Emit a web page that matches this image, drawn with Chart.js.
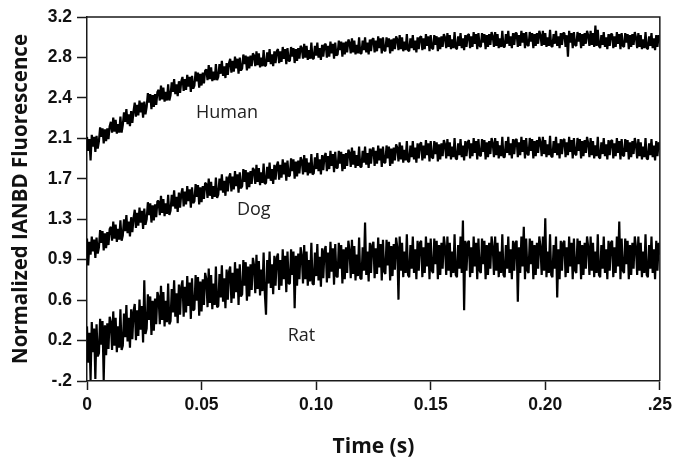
<!DOCTYPE html>
<html>
<head>
<meta charset="utf-8">
<script src="https://cdn.jsdelivr.net/npm/chart.js@4.4.1/dist/chart.umd.min.js"></script>
<style>
  html, body { margin: 0; padding: 0; background: #ffffff; }
  #wrap { width: 677px; height: 460px; }
</style>
</head>
<body>
<div id="wrap"><canvas id="chart" width="677" height="460"></canvas></div>
<script>
// Time axis: 481 samples from 0 to 0.25 s
const timeStart = 0;
const timeEnd = 0.25;
const sampleCount = 481;

const xTickLabels = ['0', '0.05', '0.10', '0.15', '0.20', '.25'];
const yTickLabels = ['-.2', '0.2', '0.6', '0.9', '1.3', '1.7', '2.1', '2.4', '2.8', '3.2'];

// Traces (noise included)
const human = [
  2.08, 1.95, 2.06, 1.86, 2.10, 1.99, 2.08, 1.94, 2.09, 1.97,
  2.04, 2.17, 2.08, 2.16, 2.02, 2.15, 2.04, 2.16, 2.06, 2.18,
  2.22, 2.12, 2.26, 2.13, 2.24, 2.11, 2.20, 2.12, 2.27, 2.12,
  2.19, 2.31, 2.22, 2.34, 2.20, 2.29, 2.18, 2.32, 2.21, 2.32,
  2.40, 2.27, 2.38, 2.28, 2.42, 2.31, 2.40, 2.26, 2.41, 2.29,
  2.36, 2.49, 2.40, 2.48, 2.34, 2.47, 2.36, 2.48, 2.38, 2.50,
  2.52, 2.42, 2.56, 2.43, 2.54, 2.41, 2.50, 2.42, 2.57, 2.42,
  2.47, 2.59, 2.50, 2.62, 2.48, 2.57, 2.46, 2.60, 2.49, 2.60,
  2.64, 2.51, 2.62, 2.52, 2.66, 2.55, 2.64, 2.50, 2.65, 2.53,
  2.56, 2.69, 2.60, 2.68, 2.54, 2.67, 2.56, 2.68, 2.58, 2.70,
  2.71, 2.61, 2.75, 2.62, 2.73, 2.60, 2.69, 2.61, 2.76, 2.61,
  2.64, 2.76, 2.67, 2.79, 2.65, 2.74, 2.63, 2.77, 2.66, 2.77,
  2.81, 2.68, 2.79, 2.69, 2.83, 2.72, 2.81, 2.67, 2.82, 2.70,
  2.72, 2.85, 2.76, 2.84, 2.70, 2.83, 2.72, 2.84, 2.74, 2.86,
  2.84, 2.74, 2.88, 2.75, 2.86, 2.73, 2.82, 2.74, 2.89, 2.74,
  2.75, 2.87, 2.78, 2.90, 2.76, 2.85, 2.74, 2.88, 2.77, 2.88,
  2.90, 2.77, 2.88, 2.78, 2.92, 2.81, 2.90, 2.76, 2.91, 2.79,
  2.79, 2.92, 2.83, 2.91, 2.77, 2.90, 2.79, 2.91, 2.81, 2.93,
  2.91, 2.81, 2.95, 2.82, 2.93, 2.80, 2.89, 2.81, 2.96, 2.81,
  2.81, 2.93, 2.84, 2.96, 2.82, 2.91, 2.80, 2.94, 2.83, 2.94,
  2.95, 2.82, 2.93, 2.83, 2.97, 2.86, 2.95, 2.81, 2.96, 2.84,
  2.85, 2.98, 2.89, 2.97, 2.83, 2.96, 2.85, 2.97, 2.87, 2.99,
  2.96, 2.86, 3.00, 2.87, 2.98, 2.85, 2.94, 2.86, 3.01, 2.86,
  2.86, 2.98, 2.89, 3.01, 2.87, 2.96, 2.85, 2.99, 2.88, 2.99,
  3.00, 2.87, 2.98, 2.88, 3.02, 2.91, 3.00, 2.86, 3.01, 2.89,
  2.88, 3.01, 2.92, 3.00, 2.86, 2.99, 2.88, 3.00, 2.90, 3.02,
  2.99, 2.89, 3.03, 2.90, 3.01, 2.88, 2.97, 2.89, 3.04, 2.89,
  2.88, 3.00, 2.91, 3.03, 2.89, 2.98, 2.87, 3.01, 2.90, 3.01,
  3.02, 2.89, 3.00, 2.90, 3.04, 2.93, 3.02, 2.88, 3.03, 2.91,
  2.90, 3.03, 2.94, 3.02, 2.88, 3.01, 2.90, 3.02, 2.92, 3.04,
  3.01, 2.91, 3.05, 2.92, 3.03, 2.90, 2.99, 2.91, 3.06, 2.91,
  2.90, 3.02, 2.93, 3.05, 2.91, 3.00, 2.89, 3.03, 2.92, 3.03,
  3.04, 2.91, 3.02, 2.92, 3.06, 2.95, 3.04, 2.90, 3.05, 2.93,
  2.92, 3.05, 2.96, 3.04, 2.90, 3.03, 2.92, 3.04, 2.94, 3.06,
  3.02, 2.92, 3.06, 2.93, 3.04, 2.91, 3.00, 2.92, 3.07, 2.92,
  2.92, 3.04, 2.95, 3.07, 2.93, 3.02, 2.91, 3.05, 2.94, 3.05,
  3.05, 2.92, 3.03, 2.93, 3.07, 2.96, 3.05, 2.91, 3.06, 2.94,
  2.93, 3.06, 2.97, 3.05, 2.91, 3.04, 2.93, 3.05, 2.95, 3.07,
  3.03, 2.93, 3.07, 2.94, 3.05, 2.92, 3.01, 2.93, 3.08, 2.93,
  2.92, 3.04, 2.95, 3.07, 2.93, 3.02, 2.91, 3.05, 2.94, 3.05,
  3.05, 2.92, 3.03, 2.83, 3.07, 2.96, 3.05, 2.91, 3.06, 2.94,
  2.93, 3.06, 2.97, 3.05, 2.91, 3.04, 2.93, 3.05, 2.95, 3.07,
  3.03, 2.93, 3.07, 2.94, 3.05, 2.92, 3.12, 2.93, 3.08, 2.93,
  2.91, 3.03, 2.94, 3.06, 2.92, 3.01, 2.90, 3.04, 2.93, 3.04,
  3.04, 2.91, 3.02, 2.92, 3.06, 2.95, 3.04, 2.90, 3.05, 2.93,
  2.92, 3.05, 2.96, 3.04, 2.90, 3.03, 2.92, 3.04, 2.94, 3.06,
  3.01, 2.91, 3.05, 2.92, 3.03, 2.90, 2.99, 2.91, 3.06, 2.91,
  2.90, 3.02, 2.93, 3.05, 2.91, 3.00, 2.89, 3.03, 2.92, 3.03, 2.97
];

const dog = [
  1.13, 0.88, 1.10, 0.98, 1.15, 1.01, 1.12, 0.95, 1.14, 0.99,
  1.05, 1.21, 1.09, 1.20, 1.02, 1.18, 1.04, 1.19, 1.07, 1.22,
  1.24, 1.11, 1.29, 1.13, 1.26, 1.10, 1.22, 1.12, 1.30, 1.11,
  1.16, 1.31, 1.20, 1.35, 1.18, 1.29, 1.15, 1.33, 1.19, 1.32,
  1.40, 1.23, 1.37, 1.25, 1.42, 1.28, 1.39, 1.22, 1.41, 1.26,
  1.31, 1.47, 1.35, 1.46, 1.28, 1.44, 1.30, 1.45, 1.33, 1.48,
  1.48, 1.35, 1.53, 1.37, 1.50, 1.34, 1.46, 1.36, 1.54, 1.35,
  1.39, 1.54, 1.43, 1.58, 1.41, 1.52, 1.38, 1.56, 1.42, 1.55,
  1.60, 1.43, 1.57, 1.45, 1.62, 1.48, 1.59, 1.42, 1.61, 1.46,
  1.48, 1.64, 1.52, 1.63, 1.45, 1.61, 1.47, 1.62, 1.50, 1.65,
  1.64, 1.51, 1.69, 1.53, 1.66, 1.50, 1.62, 1.52, 1.70, 1.51,
  1.54, 1.69, 1.58, 1.73, 1.56, 1.67, 1.53, 1.71, 1.57, 1.70,
  1.74, 1.57, 1.71, 1.59, 1.76, 1.62, 1.73, 1.56, 1.75, 1.60,
  1.62, 1.78, 1.66, 1.77, 1.59, 1.75, 1.61, 1.76, 1.64, 1.79,
  1.77, 1.64, 1.82, 1.66, 1.79, 1.63, 1.75, 1.65, 1.83, 1.64,
  1.65, 1.80, 1.69, 1.84, 1.67, 1.78, 1.64, 1.82, 1.68, 1.81,
  1.85, 1.68, 1.82, 1.70, 1.87, 1.73, 1.84, 1.67, 1.86, 1.71,
  1.72, 1.88, 1.76, 1.87, 1.69, 1.85, 1.71, 1.86, 1.74, 1.89,
  1.86, 1.73, 1.91, 1.75, 1.88, 1.72, 1.84, 1.74, 1.92, 1.73,
  1.74, 1.89, 1.78, 1.93, 1.76, 1.87, 1.73, 1.91, 1.77, 1.90,
  1.93, 1.76, 1.90, 1.78, 1.95, 1.81, 1.92, 1.75, 1.94, 1.79,
  1.79, 1.95, 1.83, 1.94, 1.76, 1.92, 1.78, 1.93, 1.81, 1.96,
  1.93, 1.80, 1.98, 1.82, 1.95, 1.79, 1.91, 1.81, 1.99, 1.80,
  1.80, 1.95, 1.84, 1.99, 1.82, 1.93, 1.79, 1.97, 1.83, 1.96,
  1.98, 1.81, 1.95, 1.83, 2.00, 1.86, 1.97, 1.80, 1.99, 1.84,
  1.84, 2.00, 1.88, 1.99, 1.81, 1.97, 1.83, 1.98, 1.86, 2.01,
  1.98, 1.85, 2.03, 1.87, 2.00, 1.84, 1.96, 1.86, 2.04, 1.85,
  1.85, 2.00, 1.89, 2.04, 1.87, 1.98, 1.84, 2.02, 1.88, 2.01,
  2.03, 1.86, 2.00, 1.88, 2.05, 1.91, 2.02, 1.85, 2.04, 1.89,
  1.88, 2.04, 1.92, 2.03, 1.85, 2.01, 1.87, 2.02, 1.90, 2.05,
  2.01, 1.88, 2.06, 1.90, 2.03, 1.87, 1.99, 1.89, 2.07, 1.88,
  1.87, 2.02, 1.91, 2.06, 1.89, 2.00, 1.86, 2.04, 1.90, 2.03,
  2.05, 1.88, 2.02, 1.90, 2.07, 1.93, 2.04, 1.87, 2.06, 1.91,
  1.90, 2.06, 1.94, 2.05, 1.87, 2.03, 1.89, 2.04, 1.92, 2.07,
  2.02, 1.89, 2.07, 1.91, 2.04, 1.88, 2.00, 1.90, 2.08, 1.89,
  1.89, 2.04, 1.93, 2.08, 1.91, 2.02, 1.88, 2.06, 1.92, 2.05,
  2.06, 1.89, 2.03, 1.91, 2.08, 1.94, 2.05, 1.88, 2.07, 1.92,
  1.91, 2.07, 1.95, 2.06, 1.88, 2.04, 1.90, 2.05, 1.93, 2.08,
  2.03, 1.90, 2.08, 1.92, 2.05, 1.89, 2.01, 1.91, 2.09, 1.90,
  1.89, 2.04, 1.93, 2.08, 1.91, 2.02, 1.88, 2.06, 1.92, 2.05,
  2.06, 1.89, 2.03, 1.91, 2.08, 1.94, 2.05, 1.88, 2.07, 1.92,
  1.91, 2.07, 1.95, 2.06, 1.88, 2.04, 1.90, 2.05, 1.93, 2.08,
  2.02, 1.89, 2.07, 1.91, 2.04, 1.88, 2.00, 1.90, 2.08, 1.89,
  1.88, 2.03, 1.92, 2.07, 1.90, 2.01, 1.87, 2.05, 1.91, 2.04,
  2.05, 1.88, 2.02, 1.90, 2.07, 1.93, 2.04, 1.87, 2.06, 1.91,
  1.90, 2.06, 1.94, 2.05, 1.87, 2.03, 1.89, 2.04, 1.92, 2.07,
  2.01, 1.88, 2.06, 1.90, 2.03, 1.87, 1.99, 1.89, 2.07, 1.88,
  1.87, 2.02, 1.91, 2.06, 1.89, 2.00, 1.86, 2.04, 1.90, 2.03, 1.96
];

const rat = [
  0.31, -0.03, 0.25, -0.19, 0.35, 0.07, 0.29, -0.18, 0.33, 0.03,
  0.06, 0.38, 0.14, 0.36, -0.19, 0.32, 0.04, 0.34, 0.10, 0.40,
  0.35, 0.09, 0.45, 0.13, 0.39, 0.07, 0.31, 0.11, 0.47, 0.09,
  0.13, 0.43, 0.21, 0.51, 0.17, 0.39, 0.11, 0.47, 0.19, 0.45,
  0.52, 0.18, 0.46, 0.22, 0.56, 0.28, 0.50, 0.16, 0.74, 0.24,
  0.29, 0.61, 0.37, 0.59, 0.23, 0.55, 0.27, 0.57, 0.33, 0.63,
  0.59, 0.33, 0.69, 0.37, 0.63, 0.31, 0.55, 0.35, 0.71, 0.33,
  0.36, 0.66, 0.44, 0.74, 0.40, 0.62, 0.34, 0.70, 0.42, 0.68,
  0.74, 0.40, 0.68, 0.44, 0.78, 0.50, 0.72, 0.38, 0.76, 0.46,
  0.47, 0.79, 0.55, 0.77, 0.41, 0.73, 0.45, 0.75, 0.51, 0.81,
  0.75, 0.49, 0.85, 0.53, 0.79, 0.47, 0.71, 0.51, 0.87, 0.49,
  0.50, 0.80, 0.58, 0.88, 0.54, 0.76, 0.48, 0.84, 0.56, 0.82,
  0.87, 0.53, 0.81, 0.57, 0.91, 0.63, 0.85, 0.51, 0.89, 0.59,
  0.61, 0.93, 0.69, 0.91, 0.55, 0.87, 0.59, 0.89, 0.65, 0.95,
  0.88, 0.62, 0.98, 0.66, 0.92, 0.60, 0.84, 0.64, 1.00, 0.62,
  0.42, 0.93, 0.71, 1.01, 0.67, 0.89, 0.61, 0.97, 0.69, 0.95,
  0.99, 0.65, 0.93, 0.69, 1.03, 0.75, 0.97, 0.63, 1.01, 0.71,
  0.71, 1.03, 0.79, 1.01, 0.48, 0.97, 0.69, 0.99, 0.75, 1.05,
  0.97, 0.71, 1.07, 0.75, 1.01, 0.69, 0.93, 0.73, 1.09, 0.71,
  0.70, 1.00, 0.78, 1.08, 0.74, 0.96, 0.68, 1.04, 0.76, 1.02,
  1.06, 0.72, 1.00, 0.76, 1.10, 0.82, 1.04, 0.70, 1.08, 0.78,
  0.77, 1.09, 0.85, 1.07, 0.71, 1.03, 0.75, 1.05, 0.81, 1.11,
  1.02, 0.76, 1.12, 0.80, 1.06, 0.74, 0.98, 0.78, 1.14, 0.76,
  0.75, 1.05, 0.83, 1.28, 0.79, 1.01, 0.73, 1.09, 0.81, 1.07,
  1.10, 0.76, 1.04, 0.80, 1.14, 0.86, 1.08, 0.74, 1.12, 0.82,
  0.80, 1.12, 0.88, 1.10, 0.74, 1.06, 0.78, 1.08, 0.84, 1.14,
  1.05, 0.56, 1.15, 0.83, 1.09, 0.77, 1.01, 0.81, 1.17, 0.79,
  0.77, 1.07, 0.85, 1.15, 0.81, 1.03, 0.75, 1.11, 0.83, 1.09,
  1.11, 0.77, 1.05, 0.81, 1.15, 0.87, 1.09, 0.75, 1.13, 0.83,
  0.81, 1.13, 0.89, 1.11, 0.75, 1.07, 0.79, 1.09, 0.85, 1.15,
  1.05, 0.79, 1.15, 0.83, 1.09, 0.77, 1.01, 0.81, 1.17, 0.79,
  0.77, 1.07, 0.85, 1.15, 0.81, 1.30, 0.46, 1.11, 0.83, 1.09,
  1.11, 0.77, 1.05, 0.81, 1.15, 0.87, 1.09, 0.75, 1.13, 0.83,
  0.81, 1.13, 0.89, 1.11, 0.75, 1.07, 0.79, 1.09, 0.85, 1.15,
  1.05, 0.79, 1.15, 0.83, 1.09, 0.77, 1.01, 0.81, 1.17, 0.79,
  0.77, 1.07, 0.85, 1.15, 0.81, 1.03, 0.75, 1.11, 0.83, 1.09,
  1.11, 0.54, 1.05, 0.81, 1.15, 0.87, 1.24, 0.75, 1.13, 0.83,
  0.81, 1.13, 0.89, 1.11, 0.75, 1.07, 0.79, 1.09, 0.85, 1.15,
  1.05, 0.79, 1.15, 0.83, 1.32, 0.77, 1.01, 0.81, 1.17, 0.79,
  0.77, 1.07, 0.85, 1.15, 0.58, 1.03, 0.75, 1.11, 0.83, 1.09,
  1.11, 0.77, 1.05, 0.81, 1.15, 0.87, 1.09, 0.75, 1.13, 0.83,
  0.81, 1.13, 0.89, 1.11, 0.75, 1.07, 0.79, 1.09, 0.85, 1.15,
  1.05, 0.79, 1.15, 0.83, 1.09, 0.77, 1.01, 0.81, 1.17, 0.79,
  0.77, 1.07, 0.85, 1.15, 0.81, 1.03, 0.75, 1.11, 0.83, 1.09,
  1.11, 0.77, 1.05, 0.81, 1.15, 0.87, 1.29, 0.75, 1.13, 0.83,
  0.81, 1.13, 0.89, 1.11, 0.75, 1.07, 0.79, 1.09, 0.85, 1.15,
  1.05, 0.79, 1.15, 0.83, 1.09, 0.77, 1.01, 0.81, 1.17, 0.79,
  0.77, 1.07, 0.85, 1.15, 0.81, 1.03, 0.75, 1.11, 0.83, 1.09, 0.98
];

const seriesNames = ['Human', 'Dog', 'Rat'];
// label anchor points, in data units (time, fluorescence)
const labelTimes = [0.0611, 0.0728, 0.0936];
const labelValues = [2.30, 1.40, 0.22];

function toPoints(values) {
  const step = (timeEnd - timeStart) / (sampleCount - 1);
  return values.map((v, i) => ({ x: timeStart + i * step, y: v }));
}

const frameAndLabels = {
  id: 'frameAndLabels',
  afterDatasetsDraw(chart) {
    const { ctx, chartArea, scales } = chart;
    ctx.save();
    ctx.strokeStyle = '#1a1a1a';
    ctx.lineWidth = 1.5;
    ctx.beginPath();
    ctx.moveTo(chartArea.left, chartArea.top);
    ctx.lineTo(chartArea.right, chartArea.top);
    ctx.lineTo(chartArea.right, chartArea.bottom);
    ctx.stroke();

    ctx.fillStyle = '#222222';
    ctx.font = '18px "Open Sans", sans-serif';
    ctx.textAlign = 'center';
    ctx.textBaseline = 'middle';
    seriesNames.forEach((name, i) => {
      ctx.fillText(name, scales.x.getPixelForValue(labelTimes[i]), scales.y.getPixelForValue(labelValues[i]));
    });
    ctx.restore();
  }
};

const lineStyle = {
  borderColor: '#000000',
  borderWidth: 2.2,
  borderJoinStyle: 'bevel',
  pointRadius: 0,
  tension: 0,
  fill: false
};

const tickFont = { family: 'Liberation Sans, Arial, sans-serif', size: 17.5, weight: 'bold' };

new Chart(document.getElementById('chart'), {
  type: 'line',
  data: {
    datasets: [
      Object.assign({ label: seriesNames[0], data: toPoints(human) }, lineStyle),
      Object.assign({ label: seriesNames[1], data: toPoints(dog) }, lineStyle),
      Object.assign({ label: seriesNames[2], data: toPoints(rat) }, lineStyle)
    ]
  },
  options: {
    responsive: false,
    animation: false,
    layout: { padding: { top: 17, right: 13, left: 0, bottom: 0 } },
    plugins: {
      legend: { display: false },
      tooltip: { enabled: false }
    },
    scales: {
      x: {
        type: 'linear',
        min: 0,
        max: 0.25,
        afterFit(scale) { scale.height = 79; },
        afterBuildTicks(scale) {
          scale.ticks = xTickLabels.map((_, i) => ({ value: i * 0.05 }));
        },
        ticks: {
          color: '#111111',
          font: tickFont,
          padding: 5,
          maxRotation: 0,
          callback: (v, i) => xTickLabels[i]
        },
        grid: { drawOnChartArea: false, tickLength: 9, tickColor: '#1a1a1a', tickWidth: 1.5 },
        border: { color: '#1a1a1a', width: 1.5 },
        title: {
          display: true,
          text: 'Time (s)',
          color: '#111111',
          font: { family: 'Open Sans, sans-serif', size: 21, weight: 'bold' },
          padding: { top: 0, bottom: 0 }
        }
      },
      y: {
        min: -0.2,
        max: 3.2,
        afterFit(scale) { scale.width = 87; },
        afterBuildTicks(scale) {
          scale.ticks = yTickLabels.map((_, i) => ({ value: -0.2 + i * 3.4 / 9 }));
        },
        ticks: {
          color: '#111111',
          font: tickFont,
          padding: 5,
          callback: (v, i) => yTickLabels[i]
        },
        grid: { drawOnChartArea: false, tickLength: 10, tickColor: '#1a1a1a', tickWidth: 1.5 },
        border: { color: '#1a1a1a', width: 1.5 },
        title: {
          display: true,
          text: 'Normalized IANBD Fluorescence',
          color: '#111111',
          font: { family: 'Open Sans, sans-serif', size: 20.5, weight: 'bold' },
          padding: { top: 9, bottom: 0 }
        }
      }
    }
  },
  plugins: [frameAndLabels]
});
</script>
</body>
</html>
